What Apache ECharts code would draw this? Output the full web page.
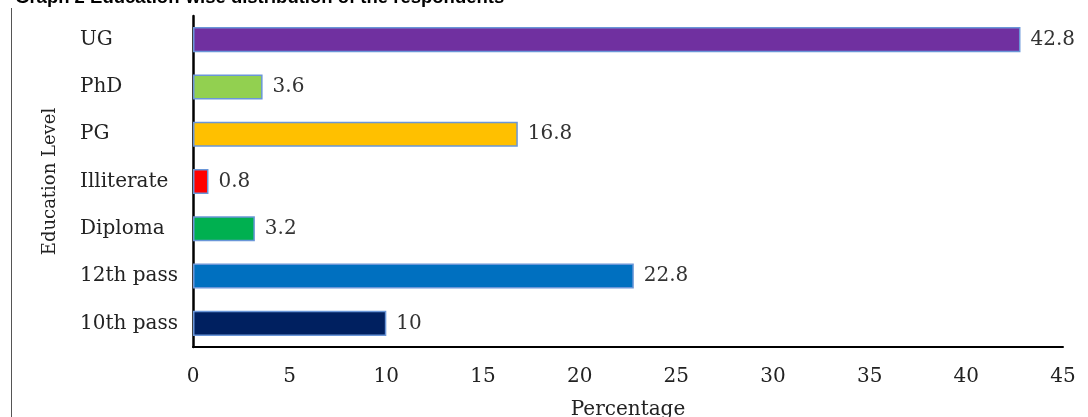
<!DOCTYPE html>
<html>
<head>
<meta charset="utf-8">
<script src="https://cdn.jsdelivr.net/npm/echarts@6/dist/echarts.min.js"></script>
<style>html,body{margin:0;padding:0;background:#fff;}#c{width:1088px;height:417px;}</style>
</head>
<body>
<div id="c"></div>
<script>
const categories = ['10th pass', '12th pass', 'Diploma', 'Illiterate', 'PG', 'PhD', 'UG'];
const values = [10, 22.8, 3.2, 0.8, 16.8, 3.6, 42.8];
const barColors = ['#002060', '#0070c0', '#00b050', '#ff0000', '#ffc000', '#92d050', '#7030a0'];
const xTicks = [0, 5, 10, 15, 20, 25, 30, 35, 40, 45];

const serif = '"DejaVu Serif", "Liberation Serif", serif';
const chart = echarts.init(document.getElementById('c'));
chart.setOption({
  animation: false,
  title: {
    text: 'Graph 2 Education-wise distribution of the respondents',
    left: 10, top: -17,
    textStyle: { fontFamily: 'Liberation Sans, Arial, sans-serif', fontWeight: 'bold', fontSize: 18.5, color: '#000' }
  },
  graphic: [{
    type: 'line', shape: { x1: 11.5, y1: 8, x2: 11.5, y2: 417 },
    style: { stroke: '#555', lineWidth: 1 }
  }],
  grid: { left: 193, right: 25, top: 16, bottom: 70, containLabel: false, outerBoundsMode: 'none' },
  xAxis: {
    type: 'value', min: 0, max: 45, interval: 5,
    name: 'Percentage', nameLocation: 'middle', nameGap: 53,
    nameTextStyle: { fontFamily: serif, fontSize: 20, color: '#222' },
    axisLine: { show: true, lineStyle: { color: '#000', width: 2 } },
    axisTick: { show: false },
    splitLine: { show: false },
    axisLabel: { fontFamily: serif, fontSize: 20, color: '#222', margin: 20,
      formatter: v => xTicks.includes(v) ? String(v) : '' }
  },
  yAxis: {
    type: 'category', data: categories,
    name: 'Education Level', nameLocation: 'middle', nameGap: 134, nameRotate: 90,
    nameTextStyle: { fontFamily: serif, fontSize: 18, color: '#222' },
    axisLine: { show: true, lineStyle: { color: '#000', width: 2.5 } },
    axisTick: { show: false },
    axisLabel: { fontFamily: serif, fontSize: 20, color: '#222', margin: 113, align: 'left' }
  },
  series: [{
    type: 'bar',
    data: values.map((v, i) => ({ value: v, itemStyle: { color: barColors[i] } })),
    barWidth: '53%',
    itemStyle: { borderColor: '#6a96d8', borderWidth: 1.5 },
    label: { show: true, position: 'right', distance: 10, fontFamily: serif, fontSize: 20, color: '#333' }
  }]
});
</script>
</body>
</html>
